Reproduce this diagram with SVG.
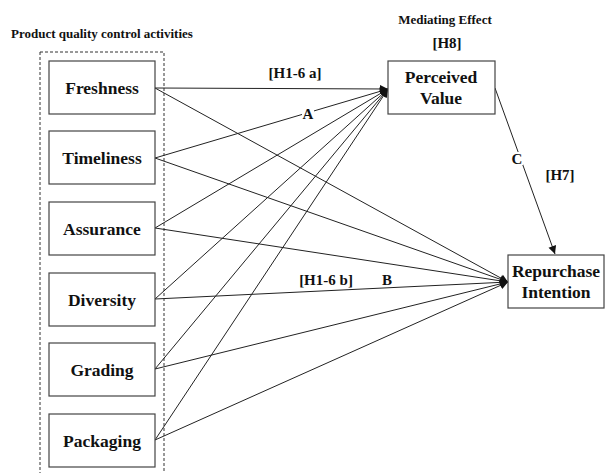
<svg xmlns="http://www.w3.org/2000/svg" width="607" height="473" viewBox="0 0 607 473">
<style>
text{font-family:'Liberation Serif','Times New Roman',serif;font-weight:bold;fill:#111}
.box{fill:#fff;stroke:#444;stroke-width:1.2}
.nt{font-size:17.5px;text-anchor:middle}
.lb{font-size:15px;text-anchor:middle}
.sm{font-size:13px}
.cn line{stroke:#222;stroke-width:1;marker-end:url(#ah)}
</style>
<defs>
<marker id="ah" viewBox="0 0 10 10" refX="10" refY="5" markerWidth="10" markerHeight="8" markerUnits="userSpaceOnUse" orient="auto">
<path d="M0,0 L10,5 L0,10 z" fill="#111"/>
</marker>
</defs>
<rect width="607" height="473" fill="#fff"/>
<text class="sm" x="11" y="38">Product quality control activities</text>
<rect x="40" y="52" width="124" height="430" fill="none" stroke="#333" stroke-width="1" stroke-dasharray="3,2"/>
<text class="sm" x="445" y="24" text-anchor="middle">Mediating Effect</text>
<text class="lb" x="447" y="48">[H8]</text>
<g class="cn" id="connectors">
<line x1="155" y1="88" x2="388" y2="89"/>
<line x1="155" y1="88" x2="508" y2="282"/>
<line x1="155" y1="158" x2="388" y2="89"/>
<line x1="155" y1="158" x2="508" y2="282"/>
<line x1="155" y1="228" x2="388" y2="89"/>
<line x1="155" y1="228" x2="508" y2="282"/>
<line x1="155" y1="299" x2="388" y2="89"/>
<line x1="155" y1="299" x2="508" y2="282"/>
<line x1="155" y1="369" x2="388" y2="89"/>
<line x1="155" y1="369" x2="508" y2="282"/>
<line x1="155" y1="440" x2="388" y2="89"/>
<line x1="155" y1="440" x2="508" y2="282"/>
<line x1="495" y1="88" x2="555" y2="254"/>
</g>
<g id="labels">
<text class="lb" x="295" y="78">[H1-6 a]</text>
<rect x="302" y="108" width="12" height="12" fill="#fff"/>
<text class="lb" x="308" y="119">A</text>
<rect x="511" y="152" width="12" height="13" fill="#fff"/>
<text class="lb" x="517" y="164">C</text>
<text class="lb" x="560" y="180">[H7]</text>
<text class="lb" x="326" y="285">[H1-6 b]</text>
<text class="lb" x="387" y="285">B</text>
</g>
<g id="freshness"><rect class="box" x="49" y="61" width="106" height="53"/><text class="nt" x="102" y="94">Freshness</text></g>
<g id="timeliness"><rect class="box" x="49" y="131" width="106" height="53"/><text class="nt" x="102" y="164">Timeliness</text></g>
<g id="assurance"><rect class="box" x="49" y="202" width="106" height="53"/><text class="nt" x="102" y="235">Assurance</text></g>
<g id="diversity"><rect class="box" x="49" y="273" width="106" height="53"/><text class="nt" x="102" y="306">Diversity</text></g>
<g id="grading"><rect class="box" x="49" y="343" width="106" height="53"/><text class="nt" x="102" y="376">Grading</text></g>
<g id="packaging"><rect class="box" x="49" y="414" width="106" height="53"/><text class="nt" x="102" y="447">Packaging</text></g>
<g id="perceived-value"><rect class="box" x="388" y="61" width="107" height="53"/><text class="nt" x="441" y="83">Perceived</text><text class="nt" x="441" y="104">Value</text></g>
<g id="repurchase-intention"><rect class="box" x="508" y="255" width="96" height="53"/><text class="nt" x="556" y="277">Repurchase</text><text class="nt" x="556" y="298">Intention</text></g>
</svg>
